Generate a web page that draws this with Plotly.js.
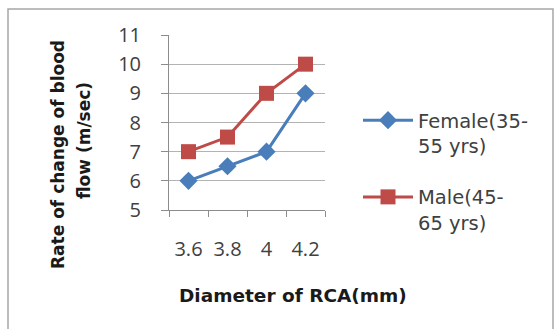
<!DOCTYPE html>
<html>
<head>
<meta charset="utf-8">
<script src="https://cdn.plot.ly/plotly-3.0.1.min.js"></script>
<style>html,body{margin:0;padding:0;background:#fff;}#chart{width:554px;height:329px;}</style>
</head>
<body>
<div id="chart"></div>
<script>
var categories = ["3.6", "3.8", "4", "4.2"];
var femaleValues = [6, 6.5, 7, 9];
var maleValues = [7, 7.5, 9, 10];
var seriesNames = ["Female(35-<br>55 yrs)", "Male(45-<br>65 yrs)"];
var xTitle = "Diameter of RCA(mm)";
var yTitleLines = ["Rate of change of blood", "flow (m/sec)"];

var L = 169, R = 325, T = 35, B = 210;
function px(x){ return (x - L) / (R - L); }
function py(y){ return (B - y) / (B - T); }

var FONT = "'DejaVu Sans', sans-serif";
var TICKFONT = "'Open Sans', sans-serif";
var traces = [
  {x: categories, y: femaleValues, name: seriesNames[0], legendgroup: "f", type: "scatter", mode: "lines+markers",
   line: {color: "#4A7EBB", width: 3}, marker: {symbol: "diamond", size: 14, color: "#4A7EBB"}},
  {x: categories, y: maleValues, name: seriesNames[1], legendgroup: "m", type: "scatter", mode: "lines+markers",
   line: {color: "#BE4B48", width: 3}, marker: {symbol: "square", size: 15, color: "#BE4B48"}}
];
var layout = {
  width: 554, height: 329,
  margin: {l: L, r: 554 - R, t: T, b: 329 - B},
  paper_bgcolor: "#fff", plot_bgcolor: "#fff",
  font: {family: FONT, color: "#404040", size: 17},
  showlegend: true,
  legend: {x: px(358), y: py(101), xanchor: "left", yanchor: "top", valign: "top", itemwidth: 50,
           font: {family: FONT, size: 19.5, color: "#404040"}, tracegroupgap: 23, bgcolor: "rgba(0,0,0,0)"},
  xaxis: {type: "category", range: [-0.5, 3.5], showgrid: false, showline: true, linecolor: "#8c8c8c", linewidth: 1,
          ticks: "outside", tickson: "boundaries", ticklen: 6, tickcolor: "#8c8c8c",
          ticklabelstandoff: 21, tickfont: {family: TICKFONT, size: 20, color: "#404040"}, zeroline: false},
  yaxis: {range: [5, 11], dtick: 1, showgrid: true, gridcolor: "#b3b3b3", gridwidth: 1, showline: true,
          linecolor: "#8c8c8c", linewidth: 1, ticks: "outside", ticklen: 7, tickcolor: "#8c8c8c",
          ticklabelstandoff: 16, tickfont: {family: TICKFONT, size: 20, color: "#404040"}, zeroline: false},
  annotations: [
    {text: xTitle, xref: "paper", yref: "paper", x: px(293), y: py(295), xanchor: "center", yanchor: "middle", showarrow: false,
     font: {family: FONT, size: 18.5, color: "#1a1a1a", weight: "bold"}},
    {text: yTitleLines[0], xref: "paper", yref: "paper", x: px(58), y: py(155), xanchor: "center", yanchor: "middle", textangle: -90, showarrow: false,
     font: {family: FONT, size: 17, color: "#1a1a1a", weight: "bold"}},
    {text: yTitleLines[1], xref: "paper", yref: "paper", x: px(84), y: py(141), xanchor: "center", yanchor: "middle", textangle: -90, showarrow: false,
     font: {family: FONT, size: 17, color: "#1a1a1a", weight: "bold"}}
  ],
  shapes: [
    {type: "rect", xref: "paper", yref: "paper", x0: px(8), x1: px(553), y0: py(345), y1: py(9),
     line: {color: "#a6a6a6", width: 1.5}, fillcolor: "rgba(0,0,0,0)", layer: "below"}
  ]
};
Plotly.newPlot("chart", traces, layout, {displayModeBar: false, staticPlot: true});
</script>
</body>
</html>
